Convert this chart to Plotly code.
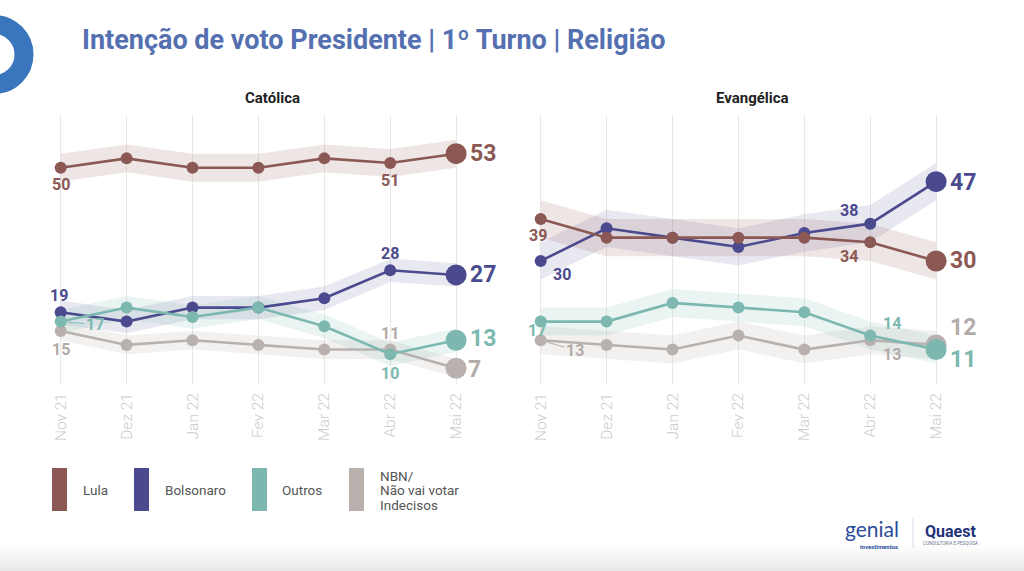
import plotly.graph_objects as go

W, H = 1024, 571

# ---------------- data ----------------
meses = ["Nov 21", "Dez 21", "Jan 22", "Fev 22", "Mar 22", "Abr 22", "Mai 22"]
series = ["Lula", "Bolsonaro", "Outros", "NBN/|Não vai votar|Indecisos"]

catolica_lula = [50, 52, 50, 50, 52, 51, 53]
catolica_bolsonaro = [19, 17, 20, 20, 22, 28, 27]
catolica_outros = [17, 20, 18, 20, 16, 10, 13]
catolica_nbn = [15, 12, 13, 12, 11, 11, 7]

evangelica_lula = [39, 35, 35, 35, 35, 34, 30]
evangelica_bolsonaro = [30, 37, 35, 33, 36, 38, 47]
evangelica_outros = [17, 17, 21, 20, 19, 14, 11]
evangelica_nbn = [13, 12, 11, 14, 11, 13, 12]

# margem de erro (faixa sombreada) por série
margem_catolica = [3, 2.5, 2.5, 2]
margem_evangelica = [4, 4, 3, 3]

# ---------------- style ----------------
cores = ["#8B5853", "#4B4A8E", "#7DB8B0", "#B9B1AE"]
faixas = ["rgba(139,88,83,0.15)", "rgba(75,74,142,0.13)",
          "rgba(125,184,176,0.16)", "rgba(185,177,174,0.18)"]
label_cores = ["#8B5853", "#4B4A8E", "#7DB8B0", "#B3ABA8"]
FONT = "Roboto"


def px(x):
    return x / W


def py(y):
    return 1 - y / H


fig = go.Figure()

paineis = [
    ("x", "y", [catolica_lula, catolica_bolsonaro, catolica_outros, catolica_nbn], margem_catolica),
    ("x2", "y2", [evangelica_lula, evangelica_bolsonaro, evangelica_outros, evangelica_nbn], margem_evangelica),
]

ordem = [3, 1, 2, 0]  # draw order: NBN, Bolsonaro, Outros, Lula
n = len(meses)
sizes = [12] * (n - 1) + [21]

for xr, yr, vals, marg in paineis:
    for i in ordem:
        v = vals[i]
        upper = [a + marg[i] for a in v]
        lower = [a - marg[i] for a in v]
        fig.add_trace(go.Scatter(
            x=meses + meses[::-1], y=upper + lower[::-1],
            fill="toself", fillcolor=faixas[i], line=dict(width=0),
            mode="lines", hoverinfo="skip", showlegend=False,
            xaxis=xr, yaxis=yr))
    for i in ordem:
        fig.add_trace(go.Scatter(
            x=meses, y=vals[i], mode="lines+markers", opacity=1,
            line=dict(color=cores[i], width=2.6),
            marker=dict(color=cores[i], size=sizes, opacity=1, line=dict(width=0)),
            showlegend=False, name=series[i], xaxis=xr, yaxis=yr))

ann = []


def lab(panel, si, idx, xs, ys, size=16, xanchor="center"):
    xr, yr, vals, _ = paineis[panel]
    ann.append(dict(x=meses[idx], y=vals[si][idx], xref=xr, yref=yr,
                    text=str(vals[si][idx]), showarrow=False,
                    xshift=xs, yshift=ys, xanchor=xanchor, yanchor="middle",
                    font=dict(family=FONT, size=size, color=label_cores[si], weight="bold")))


def lab_arrow(panel, si, idx, axo, ayo, size=16):
    xr, yr, vals, _ = paineis[panel]
    ann.append(dict(x=meses[idx], y=vals[si][idx], xref=xr, yref=yr,
                    text=str(vals[si][idx]), showarrow=True, ax=axo, ay=ayo,
                    arrowhead=0, arrowwidth=1, arrowcolor=label_cores[si], standoff=7,
                    font=dict(family=FONT, size=size, color=label_cores[si], weight="bold")))


# Católica
lab(0, 0, 0, 0, -17)
lab(0, 0, 5, 0, -17)
lab(0, 0, 6, 12, 0, 23, "left")
lab(0, 1, 0, -2, 17)
lab(0, 1, 5, 0, 17)
lab(0, 1, 6, 12, 0, 23, "left")
lab_arrow(0, 2, 0, 34, 3)
lab(0, 2, 5, 0, -19)
lab(0, 2, 6, 12, 2, 23, "left")
lab(0, 3, 0, 0, -19)
lab(0, 3, 5, 0, 16)
lab(0, 3, 6, 10, -1, 23, "left")
# Evangélica
lab(1, 0, 0, -3, -17)
lab(1, 0, 5, -21, -14)
lab(1, 0, 6, 12, 0, 23, "left")
lab(1, 1, 0, 21, -14)
lab(1, 1, 5, -21, 13)
lab(1, 1, 6, 12, -1, 23, "left")
lab(1, 2, 0, -4, -9)
lab(1, 2, 5, 22, 12)
lab(1, 2, 6, 12, -10, 23, "left")
lab_arrow(1, 3, 0, 34, 10)
lab(1, 3, 5, 22, -14)
lab(1, 3, 6, 12, 17, 23, "left")

# titles
ann.append(dict(x=px(80), y=py(40), xref="paper", yref="paper", xanchor="left", yanchor="middle",
                text="Intenção de voto Presidente | 1º Turno | Religião", showarrow=False,
                font=dict(family=FONT, size=27, color="#5470B0", weight="bold")))
ann.append(dict(x=px(272), y=py(98), xref="paper", yref="paper", xanchor="center", yanchor="middle",
                text="Católica", showarrow=False,
                font=dict(family=FONT, size=15, color="#222222", weight="bold")))
ann.append(dict(x=px(752), y=py(98), xref="paper", yref="paper", xanchor="center", yanchor="middle",
                text="Evangélica", showarrow=False,
                font=dict(family=FONT, size=15, color="#222222", weight="bold")))

shapes = []
# bottom fade (stepped gradient)
fade = ["#fdfdfd", "#fbfbfb", "#f8f8f8", "#f5f5f5", "#f2f2f2", "#efefef", "#ececec", "#e9e9e9"]
for k, c in enumerate(fade):
    shapes.append(dict(type="rect", xref="paper", yref="paper", x0=0, x1=1, y0=0,
                       y1=py(545 + k * 3.2), line=dict(width=0), fillcolor=c, layer="below"))

# blue ring top-left
shapes.append(dict(type="circle", xref="paper", yref="paper",
                   x0=px(-36), x1=px(24), y0=py(84.5), y1=py(24.5),
                   line=dict(color="#3A76BD", width=19), fillcolor="rgba(0,0,0,0)"))

# legend
leg_x = [52, 134, 252, 349]
leg_tx = [81, 163, 280, 378]
for i in range(4):
    shapes.append(dict(type="rect", xref="paper", yref="paper",
                       x0=px(leg_x[i]), x1=px(leg_x[i] + 15), y0=py(511), y1=py(468),
                       line=dict(width=0), fillcolor=cores[i]))
    linhas = series[i].split("|")
    n_l = len(linhas)
    for k, t in enumerate(linhas):
        yy = 490 + (k - (n_l - 1) / 2) * 14.5
        ann.append(dict(x=px(leg_tx[i]), y=py(yy), xref="paper", yref="paper",
                        xanchor="left", yanchor="middle", align="left", text=t,
                        showarrow=False, font=dict(family=FONT, size=13.5, color="#555555")))

# logos
ann.append(dict(x=px(872), y=py(528), xref="paper", yref="paper", xanchor="center", yanchor="middle",
                text="genial", showarrow=False,
                font=dict(family="Lato", size=21, color="#2B4C9B")))
ann.append(dict(x=px(879), y=py(546), xref="paper", yref="paper", xanchor="center", yanchor="middle",
                text="investimentos", showarrow=False,
                font=dict(family=FONT, size=6, color="#2B4C9B", weight="bold")))
shapes.append(dict(type="line", xref="paper", yref="paper", x0=px(913), x1=px(913),
                   y0=py(517), y1=py(548), line=dict(color="#d5dce8", width=1)))
ann.append(dict(x=px(950), y=py(531), xref="paper", yref="paper", xanchor="center", yanchor="middle",
                text="Quaest", showarrow=False,
                font=dict(family=FONT, size=16, color="#22337A", weight="bold")))
ann.append(dict(x=px(950), y=py(543), xref="paper", yref="paper", xanchor="center", yanchor="middle",
                text="CONSULTORIA E PESQUISA", showarrow=False,
                font=dict(family=FONT, size=4.5, color="#6d7590")))

yr_range = [3.4, 61.3]
ydom = [py(385), py(115)]
xcommon = dict(type="category", showgrid=True, gridcolor="#e9e9e9", gridwidth=1,
               tickangle=-90, tickfont=dict(family=FONT, size=15.5, color="#cbcbcb", weight=300),
               showline=False, zeroline=False, ticks="", range=[-0.314, 6.317],
               ticklabelstandoff=4, fixedrange=True)
ycommon = dict(range=yr_range, domain=ydom, showgrid=False, showticklabels=False,
               zeroline=False, showline=False, fixedrange=True)

fig.update_layout(
    width=W, height=H, autosize=False,
    margin=dict(l=0, r=0, t=0, b=0),
    paper_bgcolor="white", plot_bgcolor="rgba(0,0,0,0)",
    xaxis=dict(domain=[px(40), px(477)], anchor="y", **xcommon),
    yaxis=dict(anchor="x", **ycommon),
    xaxis2=dict(domain=[px(520), px(957)], anchor="y2", **xcommon),
    yaxis2=dict(anchor="x2", **ycommon),
    annotations=ann, shapes=shapes, showlegend=False,
)

fig.write_html("out.html")
